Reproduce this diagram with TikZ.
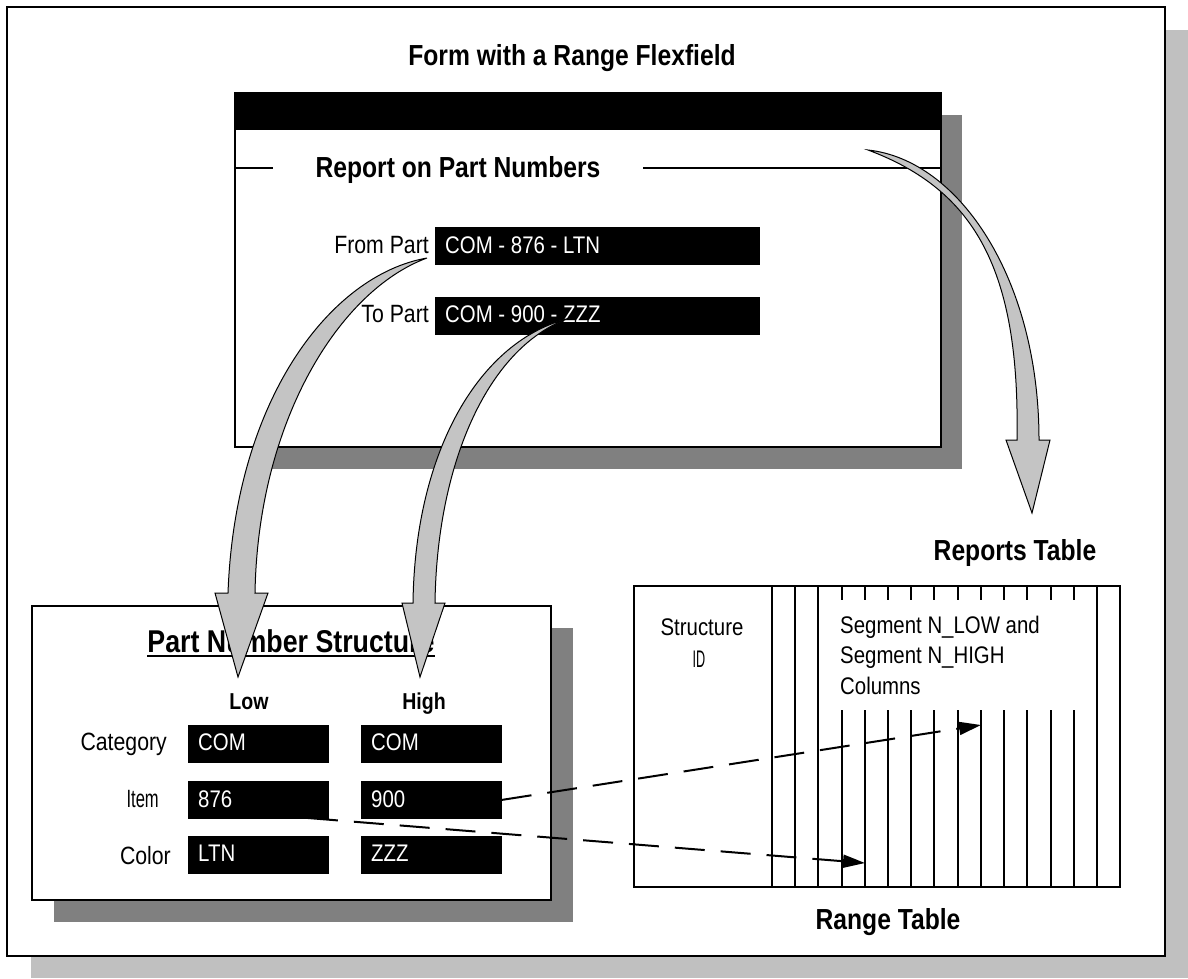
\documentclass[tikz,border=0pt]{standalone}
\usepackage{fontspec}
\setmainfont{Liberation Sans}[FakeStretch=0.85]
\usetikzlibrary{arrows.meta,calc}
\definecolor{shlight}{HTML}{C0C0C0}
\definecolor{shdark}{HTML}{808080}
\definecolor{arrowfill}{HTML}{C4C4C4}
\begin{document}
\begin{tikzpicture}[x=1pt,y=-1pt,
  hd/.style={font=\fontsize{29}{33}\selectfont\bfseries, inner sep=0pt, anchor=base},
  sub/.style={font=\fontsize{23}{28}\selectfont\bfseries, inner sep=0pt, anchor=base},
  lbl/.style={font=\fontsize{25}{30}\selectfont, inner sep=0pt, anchor=base east},
  txt/.style={font=\fontsize{24}{30}\selectfont, inner sep=0pt, anchor=base west},
  fieldbox/.style={fill=black, draw=black, line width=0.8pt, inner sep=0pt, anchor=north west},
  ftext/.style={text=white, font=\fontsize{24}{28}\selectfont, inner sep=0pt, anchor=base west},
  panel/.style={fill=white, draw=black, line width=2pt, inner sep=0pt, anchor=north west},
  shadow/.style={fill=shdark, draw=none, inner sep=0pt, anchor=north west},
  block/.style={fill=arrowfill, draw=black, line width=1pt, line join=miter},
  dasharr/.style={line width=2pt, dash pattern=on 30pt off 16pt, -{Triangle[length=22pt,width=13pt]}},
  colline/.style={line width=2pt},
]
\useasboundingbox (0,0) rectangle (1188,978);
% outer frame with shadow
\fill[shlight] (31,30) rectangle (1188,978);
\draw[fill=white, line width=1.5pt] (7,7) rectangle (1165,956);

\node[hd] (title) at (572,65) {Form with a Range Flexfield};

% form
\node[shadow, minimum width=706pt, minimum height=354pt] (formsh) at (256,115) {};
\node[panel, minimum width=706pt, minimum height=354pt] (form) at (234,92) {};
\fill[black] (form.north west) rectangle ($(form.north east)+(0,38)$);
\node[hd] (report) at (458,177) {Report on Part Numbers};
\draw[line width=2pt] (form.west |- 0,168) -- (273,168);
\draw[line width=2pt] (643,168) -- (form.east |- 0,168);

\node[lbl] (fromlbl) at (429,253) {From Part};
\node[fieldbox, minimum width=324pt, minimum height=37pt] (fromf) at (435,227) {};
\node[ftext] (fromtxt) at (445,253) {COM - 876 - LTN};
\node[lbl] (tolbl) at (429,322) {To Part};
\node[fieldbox, minimum width=324pt, minimum height=37pt] (tof) at (435,297) {};
\node[ftext] (totxt) at (445,322) {COM - 900 - ZZZ};

% part number structure
\node[shadow, minimum width=519pt, minimum height=294pt] (pnssh) at (54,628) {};
\node[panel, minimum width=519pt, minimum height=294pt] (pns) at (31,605) {};
\node[hd, font=\fontsize{31.5}{36}\selectfont\bfseries] (pnstitle) at (291,652) {Part Number Structure};
\draw[line width=2pt] ($(pnstitle.base west)+(0,4)$) -- ($(pnstitle.base east)+(0,4)$);
\node[sub] (low) at (249,709) {Low};
\node[sub] (high) at (424,709) {High};

\node[lbl] (catlbl) at (167,750) {Category};
\node[lbl] (itemlbl) at (159,807) {\scalebox{0.78}[1]{Item}};
\node[lbl] (collbl) at (171,864) {Color};

\node[fieldbox, minimum width=140pt, minimum height=37pt] (lowcat) at (188,725) {};
\node[fieldbox, minimum width=140pt, minimum height=37pt] (highcat) at (361,725) {};
\node[fieldbox, minimum width=140pt, minimum height=37pt] (lowitem) at (188,781) {};
\node[fieldbox, minimum width=140pt, minimum height=37pt] (highitem) at (361,781) {};
\node[fieldbox, minimum width=140pt, minimum height=37pt] (lowcol) at (188,836) {};
\node[fieldbox, minimum width=140pt, minimum height=37pt] (highcol) at (361,836) {};
\node[ftext] (lowcattxt) at (198,750) {COM};
\node[ftext] (highcattxt) at (371,750) {COM};
\node[ftext] (lowitemtxt) at (198,807) {876};
\node[ftext] (highitemtxt) at (371,807) {900};
\node[ftext] (lowcoltxt) at (198,861) {LTN};
\node[ftext] (highcoltxt) at (371,861) {ZZZ};

% range table
\node[hd] (reports) at (1015,560) {Reports Table};
\node[panel, minimum width=486pt, minimum height=301pt] (range) at (633,585) {};
\node[hd] (rangetitle) at (888,929) {Range Table};
\foreach \k in {0,1,2,14} {
  \draw[colline] (772+23.21*\k,585) -- (772+23.21*\k,888);
}
\foreach \k in {3,...,13} {
  \draw[colline] (772+23.21*\k,585) -- (772+23.21*\k,600);
  \draw[colline] (772+23.21*\k,710) -- (772+23.21*\k,888);
}
\node[txt, anchor=base] (structure) at (702,635) {Structure};
\node[txt, anchor=base] (structid) at (699,667) {\scalebox{0.62}[1]{ID}};
\node[txt] (seg1) at (840,633) {Segment N\_LOW and};
\node[txt] (seg2) at (840,663) {Segment N\_HIGH};
\node[txt] (seg3) at (840,694) {Columns};

% curved block arrows
\draw[block] (427,258) .. controls (330,275) and (235,400) .. (228,593) -- (215,593) -- (238,677) -- (268,593) -- (255,593) .. controls (258,420) and (340,290) .. cycle;
\draw[block] (570,318) .. controls (480,340) and (415,450) .. (413,603) -- (402,603) -- (420,677) -- (445,603) -- (435,603) .. controls (437,460) and (490,345) .. cycle;
\draw[block] (868,150) .. controls (960,160) and (1039,280) .. (1039,440) -- (1050,440) -- (1032,513) -- (1006,440) -- (1017,440) .. controls (1020,270) and (975,190) .. cycle;

% dashed connectors
\coordinate (lowstart) at (308,818);
\coordinate (tiphigh) at (981,725);
\coordinate (tiplow) at (865,863);
\draw[dasharr] (highitem.east) -- (tiphigh);
\draw[dasharr] (lowstart) -- (tiplow);
\end{tikzpicture}
\end{document}
